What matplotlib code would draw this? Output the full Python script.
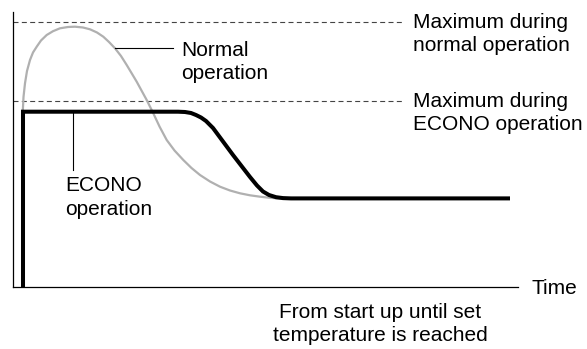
import matplotlib
matplotlib.use("Agg")
import matplotlib.pyplot as plt

plt.rcParams['font.family'] = ['Liberation Sans', 'DejaVu Sans']
plt.rcParams['lines.scale_dashes'] = False

# Data (time units, temperature units; origin at the axes corner)
econo_t = [10, 10, 165, 172, 178, 183, 188, 193, 200, 220, 237, 244, 250, 256, 263, 270, 278, 497]
econo_v = [0, 175.3, 175.3, 175, 174, 172, 169.5, 166, 159, 132, 110, 101.5, 95.5, 92, 89.8, 88.9, 88.6, 88.6]

normal_t = [9.7, 10.5, 12, 14, 17, 20, 23.7, 28, 33.7, 40, 47, 55, 62, 70, 77, 84, 90.3, 96, 102, 108, 113.7,
            118.5, 123.7, 128.5, 133.7, 140.3, 146.5, 153.7, 161.5, 170.3, 178.5, 187, 197, 207, 217, 227,
            237, 247, 256, 263.7, 280]
normal_v = [173.7, 190, 203.7, 216, 227, 234.5, 240.3, 246.5, 252, 255.8, 258.7, 260, 260.3, 259.5, 257.7,
            254.5, 250.3, 245, 238.7, 231, 222, 214, 205.3, 196.5, 187, 173.7, 160.5, 147, 136.5, 127,
            119, 112, 105.5, 100.3, 96.5, 93.7, 91.7, 90.3, 89.3, 88.7, 88.6]

max_normal = 265
max_econo = 186.5
dash_end = 390

labels_right = ["Maximum during\nnormal operation", "Maximum during\nECONO operation"]

fig = plt.figure(figsize=(5.87, 3.49), dpi=100)
ax = fig.add_axes([13/587, 62/349, 505/587, 275/349])
ax.set_xlim(0, 505)
ax.set_ylim(0, 275)
ax.set_xticks([])
ax.set_yticks([])
for s in ['top', 'right']:
    ax.spines[s].set_visible(False)
for s in ['left', 'bottom']:
    ax.spines[s].set_linewidth(0.9)
    ax.spines[s].set_color('black')

# dashed maxima
for yv in [max_normal, max_econo]:
    ax.plot([0, dash_end], [yv, yv], color='#444444', lw=0.8,
            dashes=(3.6, 2.4), clip_on=False)

ax.plot(normal_t, normal_v, color='#b0b0b0', lw=1.6, clip_on=False,
        solid_joinstyle='round')
ax.plot(econo_t, econo_v, color='black', lw=2.9, clip_on=False,
        solid_capstyle='butt', solid_joinstyle='miter')

fs = 15
ls = 1.3
# leader lines
ax.plot([102, 160], [238.7, 238.7], color='black', lw=0.8, clip_on=False)
ax.plot([60, 60], [175, 117], color='black', lw=0.8, clip_on=False)

ax.text(168, 225, "Normal\noperation", fontsize=fs, ha='left', va='center',
        linespacing=ls)
ax.text(52, 89.5, "ECONO\noperation", fontsize=fs, ha='left', va='center',
        linespacing=ls)

ax.text(400, 253, labels_right[0], fontsize=fs, ha='left', va='center',
        linespacing=ls, clip_on=False)
ax.text(400, 174, labels_right[1], fontsize=fs, ha='left', va='center',
        linespacing=ls, clip_on=False)

ax.text(519, -1, "Time", fontsize=fs, ha='left', va='center', clip_on=False)
ax.text(367, -37, "From start up until set\ntemperature is reached", fontsize=fs,
        ha='center', va='center', linespacing=ls, clip_on=False)

fig.savefig("out.png", dpi=100)
